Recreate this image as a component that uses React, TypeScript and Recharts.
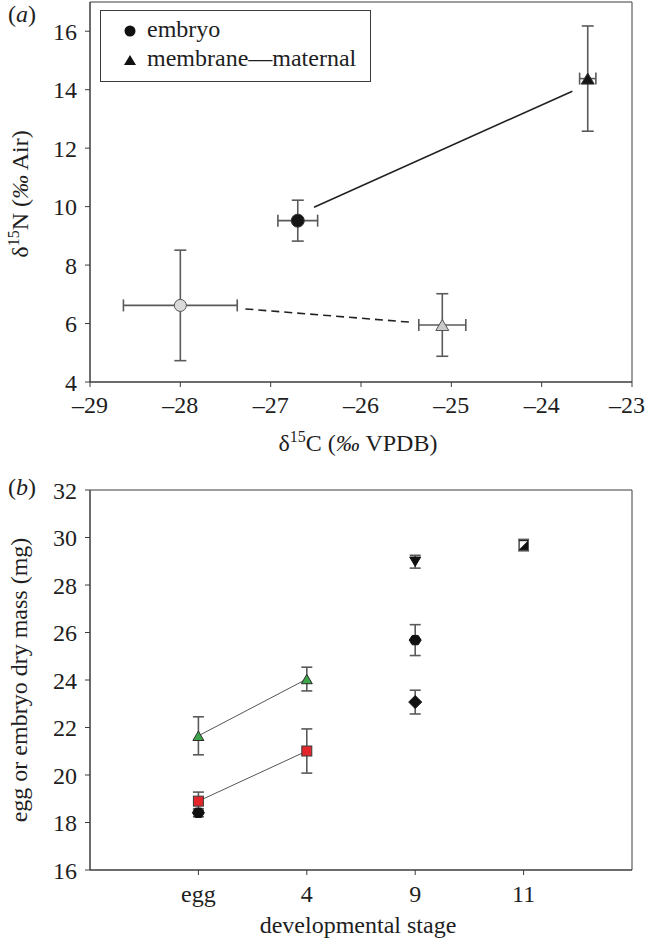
import React from 'react';
import {
  ScatterChart,
  Scatter,
  XAxis,
  YAxis,
  ErrorBar,
  Legend,
  Label,
  ReferenceArea,
} from 'recharts';

const FONT = '"Liberation Serif", "Times New Roman", "DejaVu Serif", serif';
const AXIS = '#3c3c3c';
const TXT = '#1e1e1e';
const ERR = '#5a5a5a';

// ---------- Panel (a) ----------
const legendLabels = ['embryo', 'membrane\u2014maternal'];
const carbonTicks = [-29, -28, -27, -26, -25, -24, -23];
const nitrogenTicks = [4, 6, 8, 10, 12, 14, 16];
// order: embryo (black), membrane (black), embryo (grey), membrane (grey)
const carbon = [-26.7, -23.49, -28.0, -25.1];
const nitrogen = [9.52, 14.38, 6.62, 5.95];
const carbonErr = [0.22, 0.09, 0.63, 0.26];
const nitrogenErr = [0.7, 1.8, 1.89, 1.07];
const solidLineC = [-26.52, -23.66];
const solidLineN = [9.98, 13.95];
const dashLineC = [-27.28, -25.47];
const dashLineN = [6.5, 6.05];

// ---------- Panel (b) ----------
const stages = ['egg', '4', '9', '11'];
const massTicks = [16, 18, 20, 22, 24, 26, 28, 30, 32];
const greenStages = ['egg', '4'];
const greenMass = [21.65, 24.04];
const greenErr = [0.8, 0.5];
const redStages = ['egg', '4'];
const redMass = [18.9, 21.01];
const redErr = [0.38, 0.93];
const hexStages = ['egg', '9'];
const hexMass = [18.41, 25.68];
const hexErr = [0.17, 0.65];
const downStages = ['9'];
const downMass = [28.98];
const downErr = [0.27];
const diamondStages = ['9'];
const diamondMass = [23.07];
const diamondErr = [0.5];
const halfStages = ['11'];
const halfMass = [29.68];
const halfErr = [0.24];

const pointA = (i: number) => [
  { x: carbon[i], y: nitrogen[i], ex: carbonErr[i], ey: nitrogenErr[i] },
];
const segment = (xs: number[], ys: number[]) => xs.map((x, i) => ({ x, y: ys[i] }));
const ptsB = (st: string[], m: number[], e: number[]) =>
  st.map((s, i) => ({ x: stages.indexOf(s) + 1, y: m[i], ey: e[i] }));

type MkProps = { cx: number; cy: number; kind: string; fill: string; stroke: string; s: number };
const Mk = ({ cx, cy, kind, fill, stroke, s }: MkProps) => {
  if (cx == null || cy == null) return <g />;
  switch (kind) {
    case 'circle':
      return <circle cx={cx} cy={cy} r={s} fill={fill} stroke={stroke} strokeWidth={1} />;
    case 'triangle': {
      const h = s * 1.7;
      return (
        <polygon
          points={`${cx - s},${cy + h / 2} ${cx + s},${cy + h / 2} ${cx},${cy - h / 2}`}
          fill={fill}
          stroke={stroke}
          strokeWidth={1}
        />
      );
    }
    case 'down': {
      const h = s * 1.7;
      return (
        <polygon
          points={`${cx - s},${cy - h / 2} ${cx + s},${cy - h / 2} ${cx},${cy + h / 2}`}
          fill={fill}
          stroke={stroke}
          strokeWidth={1}
        />
      );
    }
    case 'square':
      return (
        <rect x={cx - s} y={cy - s} width={2 * s} height={2 * s} fill={fill} stroke={stroke} strokeWidth={1} />
      );
    case 'diamond':
      return (
        <polygon
          points={`${cx},${cy - s} ${cx + s},${cy} ${cx},${cy + s} ${cx - s},${cy}`}
          fill={fill}
          stroke={stroke}
          strokeWidth={1}
        />
      );
    case 'hexagon': {
      const pts = [0, 1, 2, 3, 4, 5]
        .map((k) => {
          const a = (Math.PI / 3) * k;
          return `${cx + s * Math.cos(a)},${cy + s * 0.9 * Math.sin(a)}`;
        })
        .join(' ');
      return <polygon points={pts} fill={fill} stroke={stroke} strokeWidth={1} />;
    }
    case 'half':
      return (
        <g>
          <rect x={cx - s} y={cy - s} width={2 * s} height={2 * s} fill="#fff" stroke={stroke} strokeWidth={1.2} />
          <polygon points={`${cx + s},${cy - s} ${cx + s},${cy + s} ${cx - s},${cy + s}`} fill={fill} />
        </g>
      );
    default:
      return <g />;
  }
};

const shapeOf = (kind: string, fill: string, stroke: string, s: number) => (p: any) =>
  <Mk cx={p.cx} cy={p.cy} kind={kind} fill={fill} stroke={stroke} s={s} />;

const noShape = () => <g />;

const tickStyle = { fontSize: 24, fontFamily: FONT, fill: TXT };
const dash = (v: number) => (v < 0 ? '\u2013' + Math.abs(v) : String(v));

const LegendBoxA = () => (
  <svg width={271} height={72} style={{ display: 'block' }}>
    <rect x={0.5} y={0.5} width={270} height={71} fill="#fff" stroke={AXIS} strokeWidth={1} />
    <circle cx={30} cy={21} r={5.5} fill="#111" />
    <text x={47} y={27} fontSize={24} fontFamily={FONT} fill={TXT}>
      {legendLabels[0]}
    </text>
    <polygon points="24,55 36,55 30,45" fill="#111" />
    <text x={47} y={56} fontSize={24} fontFamily={FONT} fill={TXT}>
      {legendLabels[1]}
    </text>
  </svg>
);

const YTitleA = (props: any) => {
  const vb = props.viewBox || { x: 0, y: 2, width: 90, height: 380 };
  const cx = 28;
  const cy = vb.y + vb.height / 2 + 2;
  return (
    <g>
      <text x={8} y={22} fontSize={24} fontFamily={FONT} fill={TXT}>
        (<tspan fontStyle="italic">a</tspan>)
      </text>
      <text
        x={cx}
        y={cy}
        transform={`rotate(-90, ${cx}, ${cy})`}
        textAnchor="middle"
        fontSize={24}
        fontFamily={FONT}
        fill={TXT}
      >
        δ<tspan dy={-9} fontSize={16}>15</tspan>
        <tspan dy={9}>N (</tspan>
        <tspan fontStyle="italic">‰</tspan> Air)
      </text>
    </g>
  );
};

const XTitleA = (props: any) => {
  const vb = props.viewBox || { x: 90, y: 382, width: 542, height: 78 };
  const x = vb.x + vb.width / 2 - 3;
  const y = vb.y + 69;
  return (
    <text x={x} y={y} textAnchor="middle" fontSize={24} fontFamily={FONT} fill={TXT}>
      δ<tspan dy={-9} fontSize={16}>15</tspan>
      <tspan dy={9}>C (</tspan>
      <tspan fontStyle="italic">‰</tspan> VPDB)
    </text>
  );
};

const YTitleB = (props: any) => {
  const vb = props.viewBox || { x: 0, y: 30, width: 90, height: 380 };
  const cx = 27;
  const cy = vb.y + vb.height / 2;
  return (
    <g>
      <text x={8} y={35} fontSize={24} fontFamily={FONT} fill={TXT}>
        (<tspan fontStyle="italic">b</tspan>)
      </text>
      <text
        x={cx}
        y={cy}
        transform={`rotate(-90, ${cx}, ${cy})`}
        textAnchor="middle"
        fontSize={24}
        fontFamily={FONT}
        fill={TXT}
      >
        egg or embryo dry mass (mg)
      </text>
    </g>
  );
};

const XTitleB = (props: any) => {
  const vb = props.viewBox || { x: 90, y: 410, width: 542, height: 72 };
  const x = vb.x + vb.width / 2 - 3;
  const y = vb.y + 63;
  return (
    <text x={x} y={y} textAnchor="middle" fontSize={24} fontFamily={FONT} fill={TXT}>
      developmental stage
    </text>
  );
};

const errA = { stroke: ERR, strokeWidth: 1.6, width: 6 };
const errB = { stroke: ERR, strokeWidth: 1.6, width: 5.5 };

export default function App() {
  return (
    <div
      style={{
        position: 'absolute',
        left: 0,
        top: 0,
        width: 645,
        height: 942,
        background: '#fff',
        fontFamily: FONT,
      }}
    >
      <div style={{ position: 'absolute', left: 0, top: 0 }}>
        <ScatterChart width={645} height={460} margin={{ top: 2, right: 13, left: 0, bottom: 0 }}>
          <XAxis
            type="number"
            dataKey="x"
            domain={[-29, -23]}
            ticks={carbonTicks}
            allowDataOverflow
            height={78}
            tickSize={5}
            tickMargin={9}
            tick={tickStyle}
            tickFormatter={dash}
            axisLine={{ stroke: AXIS }}
            tickLine={{ stroke: AXIS }}
          >
            <Label content={XTitleA} />
          </XAxis>
          <YAxis
            type="number"
            dataKey="y"
            domain={[4, 17]}
            ticks={nitrogenTicks}
            allowDataOverflow
            width={90}
            tickSize={5}
            tickMargin={8}
            tick={tickStyle}
            axisLine={{ stroke: AXIS }}
            tickLine={{ stroke: AXIS }}
          >
            <Label content={YTitleA} />
          </YAxis>
          <ReferenceArea x1={-29} x2={-23} y1={4} y2={17} fill="none" stroke={AXIS} strokeWidth={1} ifOverflow="visible" />
          <Scatter
            data={segment(solidLineC, solidLineN)}
            shape={noShape}
            line={{ stroke: '#222', strokeWidth: 1.6 }}
            legendType="none"
            isAnimationActive={false}
          />
          <Scatter
            data={segment(dashLineC, dashLineN)}
            shape={noShape}
            line={{ stroke: '#222', strokeWidth: 1.6, strokeDasharray: '8 5' }}
            legendType="none"
            isAnimationActive={false}
          />
          <Scatter name={legendLabels[0]} data={pointA(0)} shape={shapeOf('circle', '#151515', '#333', 6.5)} isAnimationActive={false}>
            <ErrorBar dataKey="ex" direction="x" {...errA} />
            <ErrorBar dataKey="ey" direction="y" {...errA} />
          </Scatter>
          <Scatter name={legendLabels[1]} data={pointA(1)} shape={shapeOf('triangle', '#151515', '#333', 6.5)} isAnimationActive={false}>
            <ErrorBar dataKey="ex" direction="x" {...errA} />
            <ErrorBar dataKey="ey" direction="y" {...errA} />
          </Scatter>
          <Scatter data={pointA(2)} shape={shapeOf('circle', '#dadada', '#555', 6)} legendType="none" isAnimationActive={false}>
            <ErrorBar dataKey="ex" direction="x" {...errA} />
            <ErrorBar dataKey="ey" direction="y" {...errA} />
          </Scatter>
          <Scatter data={pointA(3)} shape={shapeOf('triangle', '#cacaca', '#555', 6.5)} legendType="none" isAnimationActive={false}>
            <ErrorBar dataKey="ex" direction="x" {...errA} />
            <ErrorBar dataKey="ey" direction="y" {...errA} />
          </Scatter>
          <Legend
            content={LegendBoxA}
            layout="vertical"
            align="center"
            verticalAlign="middle"
            wrapperStyle={{ left: 100, top: 10, width: 271, height: 72 }}
          />
        </ScatterChart>
      </div>
      <div style={{ position: 'absolute', left: 0, top: 460 }}>
        <ScatterChart width={645} height={482} margin={{ top: 30, right: 13, left: 0, bottom: 0 }}>
          <XAxis
            type="number"
            dataKey="x"
            domain={[0, 5]}
            ticks={[1, 2, 3, 4]}
            allowDataOverflow
            height={72}
            tickSize={5}
            tickMargin={10}
            tick={tickStyle}
            tickFormatter={(v: number) => stages[v - 1]}
            axisLine={{ stroke: AXIS }}
            tickLine={{ stroke: AXIS }}
          >
            <Label content={XTitleB} />
          </XAxis>
          <YAxis
            type="number"
            dataKey="y"
            domain={[16, 32]}
            ticks={massTicks}
            allowDataOverflow
            width={90}
            tickSize={5}
            tickMargin={8}
            tick={tickStyle}
            axisLine={{ stroke: AXIS }}
            tickLine={{ stroke: AXIS }}
          >
            <Label content={YTitleB} />
          </YAxis>
          <ReferenceArea x1={0} x2={5} y1={16} y2={32} fill="none" stroke={AXIS} strokeWidth={1} ifOverflow="visible" />
          <Scatter
            data={ptsB(greenStages, greenMass, greenErr)}
            shape={shapeOf('triangle', '#3da64a', '#2a2a2a', 5.5)}
            line={{ stroke: '#555', strokeWidth: 1 }}
            isAnimationActive={false}
          >
            <ErrorBar dataKey="ey" direction="y" {...errB} />
          </Scatter>
          <Scatter
            data={ptsB(redStages, redMass, redErr)}
            shape={shapeOf('square', '#e3262b', '#3a3a3a', 5)}
            line={{ stroke: '#555', strokeWidth: 1 }}
            isAnimationActive={false}
          >
            <ErrorBar dataKey="ey" direction="y" {...errB} />
          </Scatter>
          <Scatter data={ptsB(hexStages, hexMass, hexErr)} shape={shapeOf('hexagon', '#111', '#111', 6)} isAnimationActive={false}>
            <ErrorBar dataKey="ey" direction="y" {...errB} />
          </Scatter>
          <Scatter data={ptsB(downStages, downMass, downErr)} shape={shapeOf('down', '#111', '#111', 5.5)} isAnimationActive={false}>
            <ErrorBar dataKey="ey" direction="y" {...errB} />
          </Scatter>
          <Scatter data={ptsB(diamondStages, diamondMass, diamondErr)} shape={shapeOf('diamond', '#111', '#111', 6.5)} isAnimationActive={false}>
            <ErrorBar dataKey="ey" direction="y" {...errB} />
          </Scatter>
          <Scatter data={ptsB(halfStages, halfMass, halfErr)} shape={shapeOf('half', '#111', '#222', 4.5)} isAnimationActive={false}>
            <ErrorBar dataKey="ey" direction="y" {...errB} />
          </Scatter>
        </ScatterChart>
      </div>
    </div>
  );
}
